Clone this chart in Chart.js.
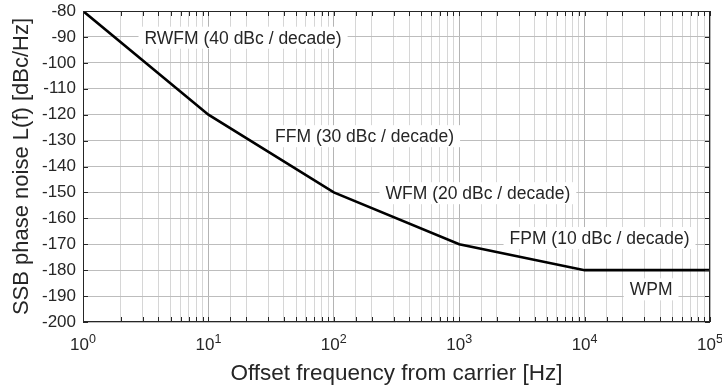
<!DOCTYPE html>
<html>
<head>
<meta charset="utf-8">
<script src="https://cdn.jsdelivr.net/npm/chart.js@4.4.0/dist/chart.umd.min.js"></script>
<style>
  html, body { margin: 0; padding: 0; background: #fff; }
  #wrap { width: 722px; height: 390px; }
</style>
</head>
<body>
<div id="wrap"><canvas id="chart"></canvas></div>
<script>
// corner points of the power-law noise model
const freq = [1, 10, 100, 1000, 10000, 100000];
const noise = [-80, -120, -150, -170, -180, -180];

// region labels and where they sit (freq, dBc/Hz)
const regionNames = ['RWFM (40 dBc / decade)', 'FFM (30 dBc / decade)', 'WFM (20 dBc / decade)', 'FPM (10 dBc / decade)', 'WPM'];
const regionFreq = [18.9, 176, 1410, 13150, 33900];
const regionLevel = [-90.3, -128.3, -150.3, -167.6, -187.4];

const decades = [0, 1, 2, 3, 4, 5];
const FONT = '"Liberation Sans", Arial, sans-serif';
const INK = '#262626';

const isMajor = v => Math.abs(Math.log10(v) - Math.round(Math.log10(v))) < 1e-9;

const decor = {
  id: 'decor',
  afterDatasetsDraw(chart) {
    const { ctx, chartArea: a, scales: { x, y } } = chart;
    ctx.save();
    // labels with white boxes
    ctx.font = '17.5px ' + FONT;
    ctx.textAlign = 'center';
    ctx.textBaseline = 'middle';
    regionNames.forEach((t, i) => {
      const px = x.getPixelForValue(regionFreq[i]);
      const py = y.getPixelForValue(regionLevel[i]);
      const w = ctx.measureText(t).width + 12;
      ctx.fillStyle = '#fff';
      ctx.fillRect(px - w / 2, py - 11, w, 22);
      ctx.fillStyle = INK;
      ctx.fillText(t, px, py + 1);
    });
    // frame + inward ticks
    ctx.strokeStyle = INK;
    ctx.lineWidth = 1;
    ctx.strokeRect(a.left + 0.5, a.top + 0.5, a.right - a.left - 1, a.bottom - a.top - 1);
    ctx.beginPath();
    x.ticks.forEach(t => {
      const px = Math.round(x.getPixelForValue(t.value)) + 0.5;
      ctx.moveTo(px, a.bottom); ctx.lineTo(px, a.bottom - 5);
      ctx.moveTo(px, a.top); ctx.lineTo(px, a.top + 5);
    });
    y.ticks.forEach(t => {
      const py = Math.round(y.getPixelForValue(t.value)) + 0.5;
      ctx.moveTo(a.left, py); ctx.lineTo(a.left + 5, py);
      ctx.moveTo(a.right, py); ctx.lineTo(a.right - 5, py);
    });
    ctx.stroke();
    // decade labels 10^n
    ctx.fillStyle = INK;
    ctx.textBaseline = 'alphabetic';
    ctx.textAlign = 'left';
    decades.forEach(d => {
      const px = x.getPixelForValue(Math.pow(10, d));
      ctx.font = '17px ' + FONT;
      const wb = ctx.measureText('10').width;
      ctx.font = '12.5px ' + FONT;
      const we = ctx.measureText(String(d)).width;
      const left = px - (wb + we) / 2;
      ctx.font = '17px ' + FONT;
      ctx.fillText('10', left, a.bottom + 28);
      ctx.font = '12.5px ' + FONT;
      ctx.fillText(String(d), left + wb, a.bottom + 21);
    });
    ctx.restore();
  }
};

new Chart(document.getElementById('chart'), {
  type: 'line',
  data: {
    datasets: [{
      data: freq.map((f, i) => ({ x: f, y: noise[i] })),
      borderColor: '#000',
      borderWidth: 2.6,
      pointRadius: 0,
      tension: 0,
      fill: false
    }]
  },
  options: {
    responsive: true,
    maintainAspectRatio: false,
    animation: false,
    devicePixelRatio: 1,
    layout: { padding: { top: 11, right: 12, left: 0, bottom: 0 } },
    plugins: { legend: { display: false }, tooltip: { enabled: false } },
    scales: {
      x: {
        type: 'logarithmic',
        min: 1,
        max: 100000,
        afterFit: s => { s.height = 68; s.paddingLeft = 0; s.paddingRight = 0; },
        grid: {
          drawTicks: false,
          color: c => (c.tick && isMajor(c.tick.value)) ? '#b4b4b4' : '#d6d6d6',
          lineWidth: 1
        },
        border: { display: false },
        ticks: { display: false },
        title: {
          display: true,
          text: 'Offset frequency from carrier [Hz]',
          color: INK,
          font: { family: FONT, size: 22.5 },
          padding: { top: 0, bottom: 3 }
        }
      },
      y: {
        min: -200,
        max: -80,
        afterFit: s => { s.width = 83; s.paddingTop = 0; s.paddingBottom = 0; },
        grid: { drawTicks: false, color: '#bdbdbd', lineWidth: 1 },
        border: { display: false },
        ticks: {
          stepSize: 10,
          padding: 7,
          color: INK,
          font: { family: FONT, size: 17 }
        },
        title: {
          display: true,
          text: 'SSB phase noise L(f) [dBc/Hz]',
          color: INK,
          font: { family: FONT, size: 22 },
          padding: { top: 9, bottom: 0 }
        }
      }
    }
  },
  plugins: [decor]
});
</script>
</body>
</html>
